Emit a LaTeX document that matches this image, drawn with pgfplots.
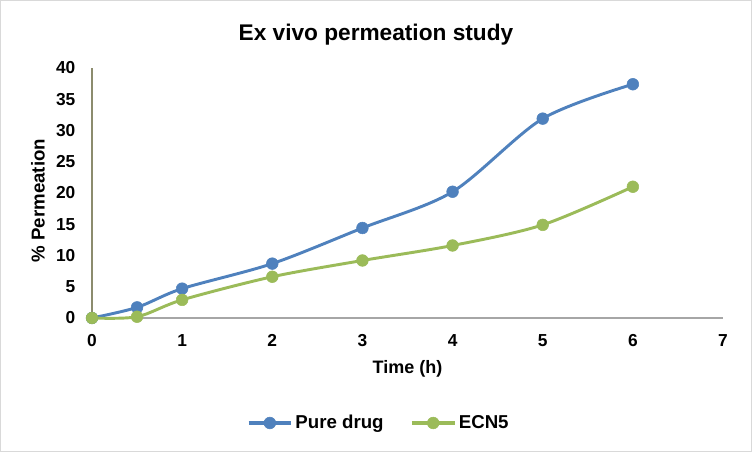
\documentclass[border=0pt]{standalone}
\usepackage{pgfplots}
\pgfplotsset{compat=1.18}
\usepackage{fontspec}
\setmainfont{Liberation Sans}
\definecolor{pureblue}{HTML}{4F81BD}
\definecolor{ecngreen}{HTML}{9BBB59}
\definecolor{yaxiscol}{HTML}{8C8C6E}
\definecolor{frame}{HTML}{D9D9D9}
\begin{document}
\begin{tikzpicture}
% outer chart frame, 752x452 px at 0.75pt per px
\draw[frame, line width=1pt] (0.5pt,0.5pt) rectangle (563.5pt,338.5pt);
\begin{axis}[
    at={(69pt,100.5pt)}, anchor=origin,
    scale only axis,
    width=473.25pt, height=187.5pt,
    xmin=0, xmax=7, ymin=0, ymax=40,
    xtick={0,1,2,3,4,5,6,7},
    ytick={0,5,10,15,20,25,30,35,40},
    axis x line*=bottom, axis y line*=left,
    x axis line style={-, color=gray!70, line width=0.8pt},
    y axis line style={-, color=yaxiscol, line width=0.8pt},
    major tick length=0pt,
    tick label style={font=\bfseries\fontsize{13}{15}\selectfont},
    /pgf/number format/assume math mode=true,
    xticklabel style={yshift=-9pt},
    yticklabel style={xshift=-9pt},
    title={\bfseries Ex vivo permeation study},
    every axis title/.style={at={(axis description cs:0.45,1.132)}, anchor=center, font=\fontsize{17}{19}\selectfont},
    xlabel={\bfseries Time (h)},
    every axis x label/.style={at={(axis description cs:0.5,-0.204)}, anchor=center, font=\fontsize{13.5}{15}\selectfont},
    ylabel={\bfseries \% Permeation},
    every axis y label/.style={at={(axis description cs:-0.0856,0.47)}, anchor=center, rotate=90, font=\fontsize{14}{16}\selectfont},
    legend style={at={(axis description cs:0.455,-0.42)}, anchor=center, legend columns=2, draw=none,
        font=\bfseries\fontsize{14}{16}\selectfont, /tikz/every even column/.append style={column sep=18pt}},
    legend image post style={line width=2.4pt},
    legend image code/.code={
        \draw[#1, mark=none] (0pt,0pt) -- (32pt,0pt);
        \draw[#1] plot coordinates {(16pt,0pt)};
    },
    legend cell align=left,
    clip=false,
]
\addplot[smooth, tension=0.5, pureblue, line width=2.2pt, mark=*, mark size=4.4pt, mark options={fill=pureblue, draw=pureblue, line width=0.4pt}] coordinates {
    (0,0) (0.5,1.7) (1,4.7) (2,8.7) (3,14.4) (4,20.2) (5,31.9) (6,37.4)
};
\addlegendentry{Pure drug}
\addplot[smooth, tension=0.5, ecngreen, line width=2.2pt, mark=*, mark size=4.4pt, mark options={fill=ecngreen, draw=ecngreen, line width=0.4pt}] coordinates {
    (0,0) (0.5,0.2) (1,2.9) (2,6.6) (3,9.2) (4,11.6) (5,14.9) (6,21.0)
};
\addlegendentry{ECN5}
\end{axis}
\end{tikzpicture}
\end{document}
